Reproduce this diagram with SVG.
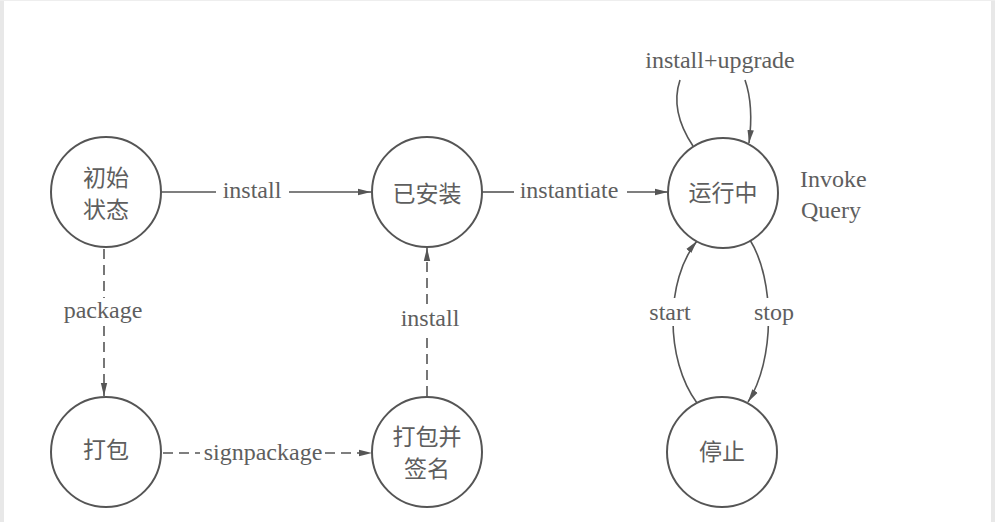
<svg xmlns="http://www.w3.org/2000/svg" width="995" height="522" viewBox="0 0 995 522">
<style>
.node circle{fill:#fff;stroke:#555;stroke-width:2}
.cjk{font-family:"Noto Sans CJK SC","Noto Sans CJK TC",sans-serif;font-size:23px;fill:#5e5e5e;text-anchor:middle}
.lbl{font-family:"Liberation Serif",serif;font-size:24px;fill:#5e5e5e;text-anchor:middle}
.ln{fill:none;stroke:#555;stroke-width:1.6}
.dash{stroke-dasharray:10 6}
</style>
<defs>
<marker id="ah" markerUnits="userSpaceOnUse" markerWidth="14" markerHeight="8" refX="13" refY="4" orient="auto">
<path d="M0,0.8 L13,4 L0,7.2 Z" fill="#555"/>
</marker>
</defs>
<rect x="0" y="0" width="995" height="522" fill="#fff"/>
<rect x="0" y="0" width="4" height="522" fill="#e8e8e8"/>
<rect x="991" y="0" width="4" height="522" fill="#e8e8e8"/>
<rect x="0" y="0" width="995" height="1" fill="#eeeeee"/>

<g id="connectors">
<path class="ln" d="M161,192 L216,192"/>
<path class="ln" d="M289,192 L371,192" marker-end="url(#ah)"/>
<path class="ln" d="M482,192 L514,192"/>
<path class="ln" d="M627,192 L668,192" marker-end="url(#ah)"/>
<path class="ln dash" d="M104,249 L104,298"/>
<path class="ln dash" d="M104,326 L104,396" marker-end="url(#ah)"/>
<path class="ln dash" d="M163,453 L200,453"/>
<path class="ln dash" d="M325,453 L372,453" marker-end="url(#ah)"/>
<path class="ln dash" d="M427,396 L427,332"/>
<path class="ln dash" d="M427,304 L427,248" marker-end="url(#ah)"/>
<path class="ln" d="M693,146 C681,128 672,104 680,80"/>
<path class="ln" d="M745,80 C752,100 752,120 749,143" marker-end="url(#ah)"/>
<path class="ln" d="M697,403 C665,360 665,280 697,241" marker-end="url(#ah)"/>
<path class="ln" d="M750,240 C775,280 775,360 748,402" marker-end="url(#ah)"/>
<rect x="647" y="298" width="46" height="28" fill="#fff"/>
<rect x="752" y="298" width="44" height="28" fill="#fff"/>
<text class="lbl" x="252" y="198">install</text>
<text class="lbl" x="569" y="198">instantiate</text>
<text class="lbl" x="103" y="318">package</text>
<text class="lbl" x="263" y="460">signpackage</text>
<text class="lbl" x="430" y="326">install</text>
<text class="lbl" x="720" y="68">install+upgrade</text>
<text class="lbl" x="670" y="320">start</text>
<text class="lbl" x="774" y="320">stop</text>
</g>

<g id="n-init" class="node">
<circle cx="106" cy="192" r="55"/>
<text class="cjk" x="106" y="186">初始</text>
<text class="cjk" x="106" y="218">状态</text>
</g>
<g id="n-installed" class="node">
<circle cx="427" cy="192" r="55"/>
<text class="cjk" x="427" y="202">已安装</text>
</g>
<g id="n-running" class="node">
<circle cx="723" cy="193" r="55"/>
<text class="cjk" x="723" y="201">运行中</text>
<text class="lbl" x="800" y="187" style="text-anchor:start">Invoke</text>
<text class="lbl" x="801" y="218" style="text-anchor:start">Query</text>
</g>
<g id="n-package" class="node">
<circle cx="106" cy="452" r="55"/>
<text class="cjk" x="106" y="458">打包</text>
</g>
<g id="n-signed" class="node">
<circle cx="427" cy="452" r="55"/>
<text class="cjk" x="427" y="445">打包并</text>
<text class="cjk" x="427" y="477">签名</text>
</g>
<g id="n-stopped" class="node">
<circle cx="722" cy="452" r="55"/>
<text class="cjk" x="722" y="460">停止</text>
</g>
</svg>
